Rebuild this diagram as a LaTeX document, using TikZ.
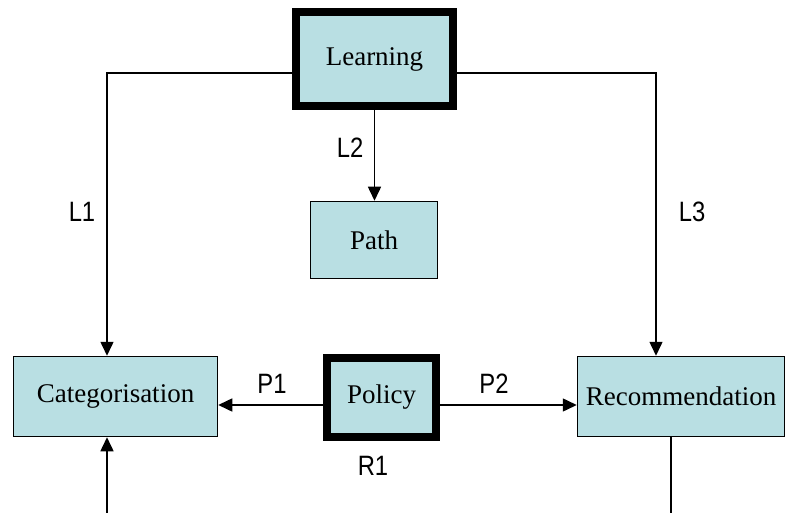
\documentclass[tikz,border=0pt]{standalone}
\usepackage{fontspec}
\setmainfont{Liberation Serif}
\newfontfamily\labfont{Liberation Sans}
\usetikzlibrary{arrows.meta}
\definecolor{boxfill}{RGB}{185,223,227}
\tikzset{
  boxnode/.style={draw=black, fill=boxfill, line width=1.5pt, inner sep=0pt,
    font=\fontsize{27}{30}\selectfont},
  thickbox/.style={boxnode, line width=8pt},
  conn/.style={draw=black, line width=1.5pt},
  arr/.style={conn, -{Triangle[length=14pt,width=13pt]}},
  lab/.style={inner sep=0pt, font=\labfont\fontsize{28}{30}\selectfont}
}
\newcommand{\lb}[1]{\scalebox{0.85}[1]{#1}}
\begin{document}
\begin{tikzpicture}[x=1pt,y=-1pt]
\useasboundingbox (0,0) rectangle (787,513);
% nodes
\node[thickbox, minimum width=157pt, minimum height=94pt] (learn) at (374.5,59) {Learning};
\node[boxnode, minimum width=127pt, minimum height=77pt] (path) at (374,240) {Path};
\node[boxnode, minimum width=204pt, minimum height=80pt] (cat) at (115.5,396.5) {Categorisation};
\node[thickbox, minimum width=109pt, minimum height=79pt] (pol) at (381.5,397.5) {Policy};
\node[boxnode, minimum width=207pt, minimum height=80pt] (rec) at (681,396.5) {Recommendation};
% helper coordinates
\coordinate (ll) at ([yshift=-14pt]learn.west);
\coordinate (lr) at ([yshift=-14pt]learn.east);
\coordinate (ct) at ([xshift=-8.5pt]cat.north);
\coordinate (rt) at ([xshift=-25pt]rec.north);
\coordinate (pl) at ([yshift=-7.5pt]pol.west);
\coordinate (pr) at ([yshift=-7.5pt]pol.east);
\coordinate (rb) at ([xshift=-10pt]rec.south);
\coordinate (rbend) at (671,513);
\coordinate (cbstart) at (107,513);
\coordinate (cb) at ([xshift=-8.5pt]cat.south);
% connectors
\draw[arr] (ll) -| (ct);
\draw[arr] (lr) -| (rt);
\draw[arr] (learn.south) -- (learn.south |- path.north);
\draw[arr] (pl) -- (pl -| cat.east);
\draw[arr] (pr) -- (pr -| rec.west);
\draw[conn] (rb) -- (rbend);
\draw[arr] (cbstart) -- (cb);
% labels
\node[lab] (l1) at (82,212) {\lb{L1}};
\node[lab] (l2) at (350,148) {\lb{L2}};
\node[lab] (l3) at (692,212) {\lb{L3}};
\node[lab] (p1) at (272,384) {\lb{P1}};
\node[lab] (p2) at (494,384) {\lb{P2}};
\node[lab] (r1) at (373,466) {\lb{R1}};
\end{tikzpicture}
\end{document}
